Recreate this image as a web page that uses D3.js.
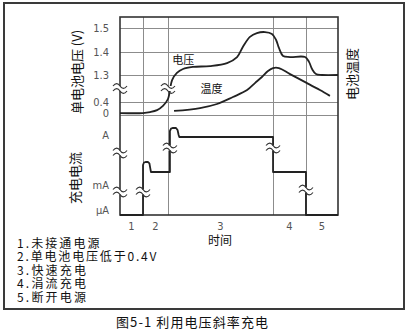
<!DOCTYPE html>
<html>
<head>
<meta charset="utf-8">
<script src="https://cdn.jsdelivr.net/npm/d3@7"></script>
<style>
  html, body { margin: 0; padding: 0; background: #fff; }
  svg { display: block; }
  .tick-label { font-family: "Liberation Sans Narrow", "DejaVu Sans Condensed", "Liberation Sans", sans-serif; font-size: 11px; fill: #555; }
  .cjk { font-family: "Noto Sans CJK SC", sans-serif; fill: #111; }
</style>
</head>
<body>
<div id="chart"></div>
<script>
// phases along the time axis (time in arbitrary units 0..100)
const phaseLabels = ['1', '2', '3', '4', '5'];
const phaseEdges = [0, 10.55, 22, 70.2, 85.3, 100];

// single cell voltage (V), broken axis
const voltTicks = [0, 0.4, 1.3, 1.4, 1.5];
const voltTime = [0, 10.5, 13.8, 17, 19.7, 22, 23.9, 26.1, 28.9, 33.5, 41.3, 49.1, 53.7, 56.4, 59.6, 62.8, 66.5, 69.7, 71.6, 72.9, 74.8, 78, 84.9, 86.7, 88.1, 89.9, 92.7, 100];
const voltValue = [0.06, 0.06, 0.09, 0.15, 0.28, 0.5, 1.13, 1.309, 1.326, 1.335, 1.339, 1.352, 1.378, 1.422, 1.463, 1.479, 1.483, 1.475, 1.45, 1.417, 1.383, 1.378, 1.378, 1.357, 1.326, 1.304, 1.3, 1.3];

// battery temperature (relative units, no scale shown)
const tempTime = [24.8, 36.7, 44.5, 51.8, 58.3, 61.9, 65.1, 67.9, 70.2, 72.9, 78, 85.8, 91.7, 96.3];
const tempValue = [21.4, 22.4, 23.8, 26.2, 28.6, 31.0, 33.1, 35.2, 36.2, 36.2, 34.1, 31.0, 28.6, 26.6];

// charge current, log10(A)
const currentTickLabels = ['\u03bcA', 'mA', 'A'];
const currentTickValues = [-6, -3, 0];
const currentTime = [0, 10.55, 10.55, 11, 11.7, 12.8, 13.5, 13.9, 14.2, 22.9, 22.9, 23.4, 24.1, 25.7, 26.4, 26.9, 27.2, 70.2, 70.2, 85.3, 85.3, 100];
const currentLog = [-6.6, -6.6, -1.8, -1.65, -1.62, -1.62, -1.7, -2.0, -2.22, -2.22, 0.24, 0.38, 0.42, 0.42, 0.3, 0, -0.12, -0.12, -2.22, -2.22, -6.6, -6.6];

const legendItems = ['1.未接通电源', '2.单电池电压低于0.4V', '3.快速充电', '4.涓流充电', '5.断开电源'];
const caption = '图5-1 利用电压斜率充电';

const W = 410, H = 332;
const plotLeft = 120, plotRight = 338, plotTop = 17, plotBottom = 215;

const svg = d3.select('#chart').append('svg')
  .attr('width', W)
  .attr('height', H);

svg.append('rect').attr('width', W).attr('height', H).attr('fill', '#fff');

// outer frame
svg.append('rect')
  .attr('x', 4).attr('y', 3)
  .attr('width', 400).attr('height', 306)
  .attr('fill', 'none')
  .attr('stroke', '#3a3a3a')
  .attr('stroke-width', 2);

const x = d3.scaleLinear().domain([0, 100]).range([plotLeft, plotRight]);
const yV = d3.scaleLinear().domain(voltTicks).range([115, 102, 75, 52, 28]);
const yT = d3.scaleLinear().domain([20, 50]).range([115, 28]);
const yI = d3.scaleLinear().domain(currentTickValues).range([210, 185, 135]);

const grid = svg.append('g').attr('stroke', '#8c8c8c').attr('stroke-width', 1);

// horizontal grid (voltage ticks)
grid.selectAll('line.h')
  .data(voltTicks)
  .enter()
  .append('line')
  .attr('x1', plotLeft).attr('x2', plotRight)
  .attr('y1', d => Math.round(yV(d)) + 0.5)
  .attr('y2', d => Math.round(yV(d)) + 0.5);

// vertical grid at phase boundaries
grid.selectAll('line.v')
  .data(phaseEdges.slice(1, -1))
  .enter()
  .append('line')
  .attr('x1', d => Math.round(x(d)) + 0.5)
  .attr('x2', d => Math.round(x(d)) + 0.5)
  .attr('y1', plotTop).attr('y2', plotBottom);

// plot border
svg.append('rect')
  .attr('x', plotLeft).attr('y', plotTop)
  .attr('width', plotRight - plotLeft).attr('height', plotBottom - plotTop)
  .attr('fill', 'none')
  .attr('stroke', '#333')
  .attr('stroke-width', 1.6);

const curve = d3.line().curve(d3.curveCatmullRom.alpha(0.5));

svg.append('path')
  .attr('d', curve(voltTime.map((t, i) => [x(t), yV(voltValue[i])])))
  .attr('fill', 'none')
  .attr('stroke', '#222')
  .attr('stroke-width', 1.8);

svg.append('path')
  .attr('d', curve(tempTime.map((t, i) => [x(t), yT(tempValue[i])])))
  .attr('fill', 'none')
  .attr('stroke', '#222')
  .attr('stroke-width', 1.8);

svg.append('path')
  .attr('d', d3.line()(currentTime.map((t, i) => [x(t), yI(currentLog[i])])))
  .attr('fill', 'none')
  .attr('stroke', '#222')
  .attr('stroke-width', 1.8)
  .attr('stroke-linejoin', 'round');

// axis break marks
const breaks = [
  [0, yV(0.85)], [22, yV(0.85)],
  [0, yI(-1.08)], [0, yI(-3.84)], [10.55, yI(-3.84)],
  [22.9, yI(-0.78)], [70.2, yI(-0.78)], [85.3, yI(-3.6)]
];

const tilde = 'M-7,0 C-4.5,-3.2 -2,-3.2 0,0 S4.5,3.2 7,0';

breaks.forEach(([t, yy]) => {
  let g = svg.append('g').attr('transform', `translate(${x(t)},${yy})`);
  g.append('rect').attr('x', -7).attr('y', -2.5).attr('width', 14).attr('height', 5).attr('fill', '#fff');
  g.append('path').attr('d', tilde).attr('transform', 'translate(0,-2.5)')
    .attr('fill', 'none').attr('stroke', '#333').attr('stroke-width', 1.2);
  g.append('path').attr('d', tilde).attr('transform', 'translate(0,2.5)')
    .attr('fill', 'none').attr('stroke', '#333').attr('stroke-width', 1.2);
});

// tick labels
svg.selectAll('text.vt')
  .data(voltTicks)
  .enter()
  .append('text')
  .attr('class', 'tick-label')
  .attr('x', 109)
  .attr('y', d => yV(d) + (d === 0 ? 2 : 4))
  .attr('text-anchor', 'end')
  .text(d => d === 0 ? '0' : d.toFixed(1));

svg.selectAll('text.it')
  .data(currentTickValues)
  .enter()
  .append('text')
  .attr('class', 'tick-label')
  .attr('x', 109)
  .attr('y', d => yI(d) + 4)
  .attr('text-anchor', 'end')
  .text((d, i) => currentTickLabels[i]);

svg.selectAll('text.pt')
  .data(phaseLabels)
  .enter()
  .append('text')
  .attr('class', 'tick-label')
  .attr('x', (d, i) => x((phaseEdges[i] + phaseEdges[i + 1]) / 2))
  .attr('y', 230)
  .attr('text-anchor', 'middle')
  .text(d => d);

// titles
svg.append('text').attr('class', 'cjk')
  .attr('x', 220).attr('y', 245)
  .attr('text-anchor', 'middle')
  .attr('font-size', 12)
  .text('时间');

svg.append('text').attr('class', 'cjk')
  .attr('transform', 'translate(82,72) rotate(-90)')
  .attr('text-anchor', 'middle')
  .attr('font-size', 13)
  .text('单电池电压 (V)');

svg.append('text').attr('class', 'cjk')
  .attr('transform', 'translate(80,178) rotate(-90)')
  .attr('text-anchor', 'middle')
  .attr('font-size', 13)
  .text('充电电流');

svg.append('text').attr('class', 'cjk')
  .attr('transform', 'translate(357,74) rotate(-90)')
  .attr('text-anchor', 'middle')
  .attr('font-size', 13)
  .text('电池温度');

svg.append('text').attr('class', 'cjk')
  .attr('x', x(29)).attr('y', yV(1.35))
  .attr('text-anchor', 'middle')
  .attr('font-size', 11)
  .text('电压');

svg.append('text').attr('class', 'cjk')
  .attr('x', x(42)).attr('y', yT(27.6))
  .attr('text-anchor', 'middle')
  .attr('font-size', 11)
  .text('温度');

// legend list: fixed-pitch look, full-width 13.5px, half-width 7.5px
function pitchWidth(s) {
  let w = 0;
  for (const ch of s) w += ch.charCodeAt(0) > 255 ? 13.5 : 7.5;
  return w;
}

svg.selectAll('text.legend')
  .data(legendItems)
  .enter()
  .append('text')
  .attr('class', 'cjk')
  .attr('x', 17)
  .attr('y', (d, i) => 247.5 + i * 13.6)
  .attr('font-size', 12)
  .attr('textLength', d => pitchWidth(d))
  .attr('lengthAdjust', 'spacing')
  .text(d => d);

svg.append('text').attr('class', 'cjk')
  .attr('x', 116).attr('y', 327)
  .attr('font-size', 13)
  .attr('textLength', 152)
  .attr('lengthAdjust', 'spacing')
  .text(caption);
</script>
</body>
</html>
